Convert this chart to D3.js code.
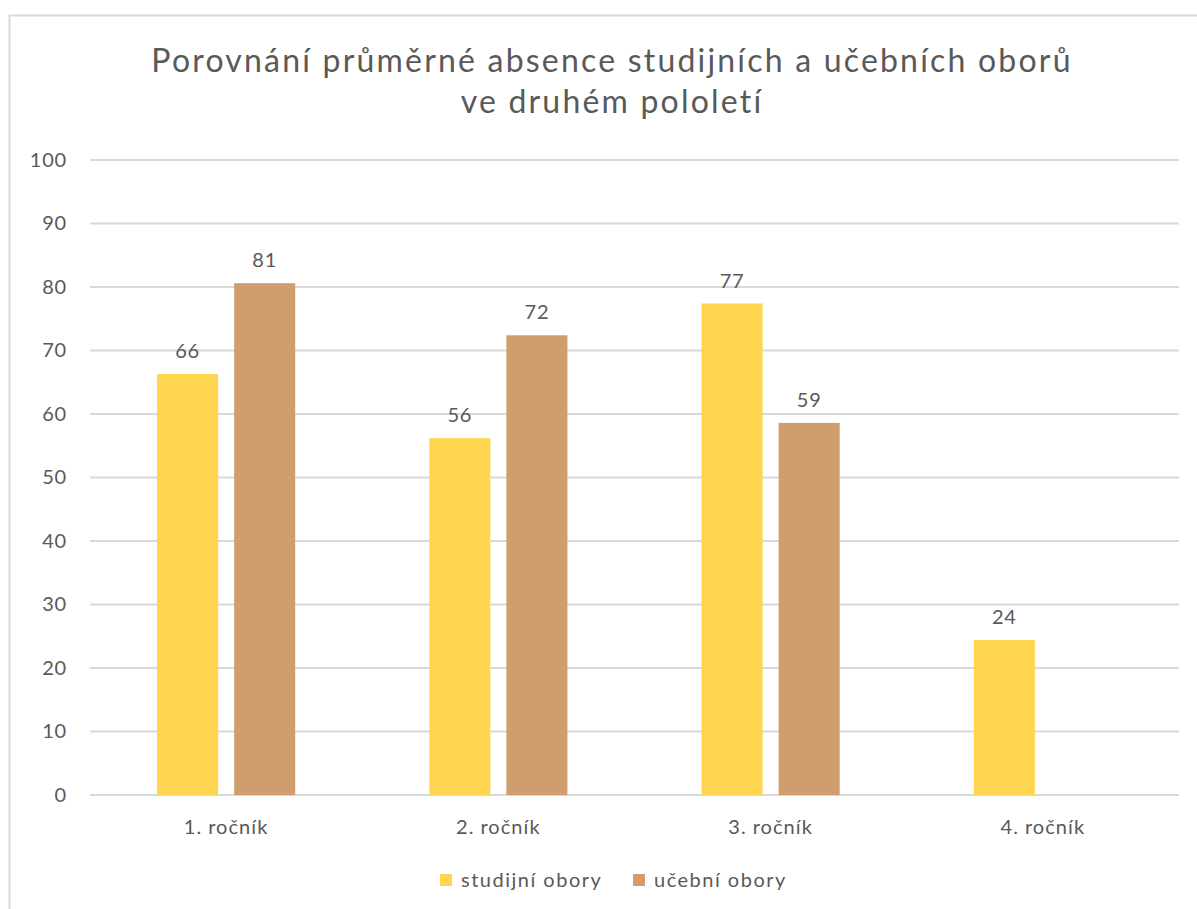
<!DOCTYPE html>
<html>
<head>
<meta charset="utf-8">
<script src="https://cdn.jsdelivr.net/npm/d3@7"></script>
<style>
  body { margin: 0; background: #fff; }
  text { font-family: Lato, "Open Sans", sans-serif; fill: #595959; }
</style>
</head>
<body>
<svg id="chart" width="1197" height="909"></svg>
<script>
// chart data
const categories = ['1. ročník', '2. ročník', '3. ročník', '4. ročník']
const seriesNames = ['studijní obory', 'učební obory']
const studijni = [66.3, 56.2, 77.4, 24.4]
const ucebni = [80.6, 72.4, 58.6, null]
const yTicks = [0, 10, 20, 30, 40, 50, 60, 70, 80, 90, 100]
const titleLines = ['Porovnání průměrné absence studijních a učebních oborů', 've druhém pololetí']
const colors = ['#ffd54f', '#cf9e6c']

const svg = d3.select('#chart')
const plotLeft = 90, plotRight = 1179, plotTop = 160, plotBottom = 795

// frame
svg.append('rect')
  .attr('x', 9.5).attr('y', 15.5)
  .attr('width', 1220).attr('height', 950)
  .attr('fill', 'none')
  .attr('stroke', '#d9d9d9')
  .attr('stroke-width', 2)

// title
svg.append('g').selectAll('text')
  .data(titleLines)
  .enter()
  .append('text')
  .attr('x', 612)
  .attr('y', (d, i) => 72 + i * 41)
  .attr('text-anchor', 'middle')
  .style('font-size', '32px')
  .style('letter-spacing', '2.2px')
  .text(d => d)

const x = d3.scaleBand().domain(categories).range([plotLeft, plotRight])
const y = d3.scaleLinear().domain([0, 100]).range([plotBottom, plotTop])

// gridlines
svg.append('g')
  .selectAll('line')
  .data(yTicks)
  .enter()
  .append('line')
  .attr('x1', plotLeft).attr('x2', plotRight)
  .attr('y1', d => y(d)).attr('y2', d => y(d))
  .attr('stroke', '#d9d9d9')
  .attr('stroke-width', 2)

// y axis labels
const yAxis = svg.append('g')
  .attr('transform', `translate(${plotLeft},0)`)
  .call(d3.axisLeft(y).tickValues(yTicks).tickSize(0).tickPadding(23))
yAxis.select('.domain').remove()
yAxis.selectAll('text').style('font-size', '20px').style('letter-spacing', '0.8px').attr('fill', '#595959')

// x axis labels
const xAxis = svg.append('g')
  .attr('transform', `translate(0,${plotBottom})`)
  .call(d3.axisBottom(x).tickSize(0).tickPadding(25))
xAxis.select('.domain').remove()
xAxis.selectAll('text').style('font-size', '20px').style('letter-spacing', '1px').attr('fill', '#595959')

// bars
const inner = d3.scaleBand().domain([0, 1]).range([0, x.bandwidth()]).paddingInner(0.208).paddingOuter(0.87)
const rows = []
categories.forEach((c, i) => {
  [studijni[i], ucebni[i]].forEach((v, s) => {
    if (v != null) rows.push({ cat: c, s: s, v: v })
  })
})

const bars = svg.append('g')
  .selectAll('.bar')
  .data(rows)
  .enter()
  .append('g')
  .attr('class', 'bar')

bars.append('rect')
  .attr('x', d => x(d.cat) + inner(d.s))
  .attr('y', d => y(d.v))
  .attr('width', inner.bandwidth())
  .attr('height', d => y(0) - y(d.v))
  .attr('fill', d => colors[d.s])

bars.append('text')
  .attr('x', d => x(d.cat) + inner(d.s) + inner.bandwidth() / 2)
  .attr('y', d => y(d.v) - 16)
  .attr('text-anchor', 'middle')
  .style('font-size', '20px')
  .style('letter-spacing', '0.8px')
  .text(d => d3.format('.0f')(d.v))

// legend
const legend = svg.append('g').attr('transform', 'translate(440,880)')
const item = legend.selectAll('g')
  .data(seriesNames)
  .enter()
  .append('g')
  .attr('transform', (d, i) => `translate(${i * 193},0)`)
item.append('rect')
  .attr('x', 0).attr('y', -6)
  .attr('width', 12).attr('height', 12)
  .attr('fill', (d, i) => colors[i])
item.append('text')
  .attr('x', 21).attr('y', 7)
  .style('font-size', '20px')
  .style('letter-spacing', '1.5px')
  .text(d => d)
</script>
</body>
</html>
